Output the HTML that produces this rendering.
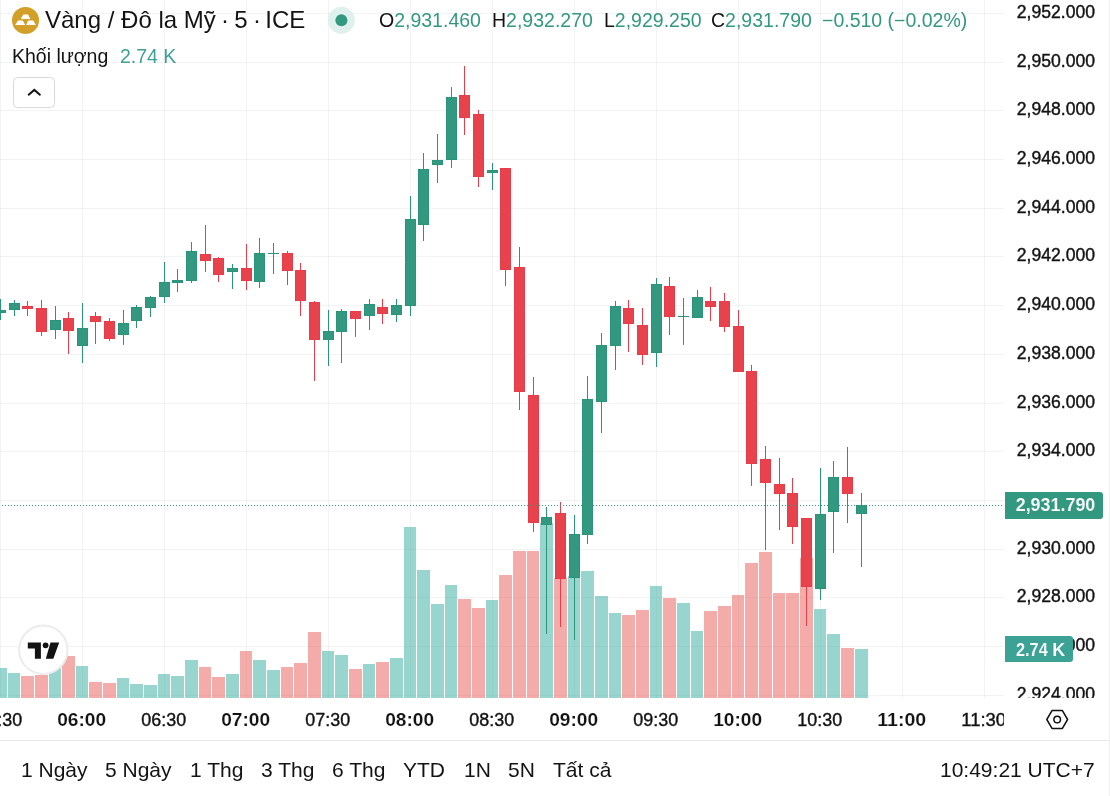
<!DOCTYPE html>
<html><head><meta charset="utf-8"><title>chart</title>
<style>
html,body{margin:0;padding:0;background:#fff;}
body{width:1110px;height:796px;position:relative;overflow:hidden;font-family:"Liberation Sans",sans-serif;color:#131313;}
.t{position:absolute;white-space:nowrap;line-height:1;will-change:transform;}
.title{left:45px;top:8px;font-size:24px;}
.ohlc{top:11px;font-size:19.5px;}
.teal{color:#329980;}
.vol{left:12px;top:46.7px;font-size:19.5px;}
.tb{top:759px;font-size:21px;}
</style></head><body>
<svg width="1110" height="796" viewBox="0 0 1110 796" style="position:absolute;left:0;top:0;will-change:transform" shape-rendering="crispEdges">
<defs><clipPath id="pane"><rect x="0" y="0" width="1004" height="698"/></clipPath><clipPath id="paxis"><rect x="1004" y="0" width="110" height="698"/></clipPath><clipPath id="taxis"><rect x="0" y="698" width="1004" height="44"/></clipPath></defs>
<g clip-path="url(#pane)">
<rect x="0" y="0" width="1" height="698" fill="rgba(42,46,57,0.06)"/>
<rect x="82" y="0" width="1" height="698" fill="rgba(42,46,57,0.06)"/>
<rect x="164" y="0" width="1" height="698" fill="rgba(42,46,57,0.06)"/>
<rect x="246" y="0" width="1" height="698" fill="rgba(42,46,57,0.06)"/>
<rect x="328" y="0" width="1" height="698" fill="rgba(42,46,57,0.06)"/>
<rect x="410" y="0" width="1" height="698" fill="rgba(42,46,57,0.06)"/>
<rect x="492" y="0" width="1" height="698" fill="rgba(42,46,57,0.06)"/>
<rect x="574" y="0" width="1" height="698" fill="rgba(42,46,57,0.06)"/>
<rect x="656" y="0" width="1" height="698" fill="rgba(42,46,57,0.06)"/>
<rect x="738" y="0" width="1" height="698" fill="rgba(42,46,57,0.06)"/>
<rect x="820" y="0" width="1" height="698" fill="rgba(42,46,57,0.06)"/>
<rect x="902" y="0" width="1" height="698" fill="rgba(42,46,57,0.06)"/>
<rect x="984" y="0" width="1" height="698" fill="rgba(42,46,57,0.06)"/>
<rect x="0" y="13" width="1004" height="1" fill="rgba(42,46,57,0.06)"/>
<rect x="0" y="62" width="1004" height="1" fill="rgba(42,46,57,0.06)"/>
<rect x="0" y="110" width="1004" height="1" fill="rgba(42,46,57,0.06)"/>
<rect x="0" y="159" width="1004" height="1" fill="rgba(42,46,57,0.06)"/>
<rect x="0" y="208" width="1004" height="1" fill="rgba(42,46,57,0.06)"/>
<rect x="0" y="256" width="1004" height="1" fill="rgba(42,46,57,0.06)"/>
<rect x="0" y="305" width="1004" height="1" fill="rgba(42,46,57,0.06)"/>
<rect x="0" y="354" width="1004" height="1" fill="rgba(42,46,57,0.06)"/>
<rect x="0" y="403" width="1004" height="1" fill="rgba(42,46,57,0.06)"/>
<rect x="0" y="451" width="1004" height="1" fill="rgba(42,46,57,0.06)"/>
<rect x="0" y="500" width="1004" height="1" fill="rgba(42,46,57,0.06)"/>
<rect x="0" y="549" width="1004" height="1" fill="rgba(42,46,57,0.06)"/>
<rect x="0" y="597" width="1004" height="1" fill="rgba(42,46,57,0.06)"/>
<rect x="0" y="646" width="1004" height="1" fill="rgba(42,46,57,0.06)"/>
<rect x="0" y="695" width="1004" height="1" fill="rgba(42,46,57,0.06)"/>
<rect x="-6" y="668" width="13" height="30" fill="rgba(38,166,154,0.47)"/>
<rect x="8" y="673" width="12" height="25" fill="rgba(38,166,154,0.47)"/>
<rect x="21" y="676" width="13" height="22" fill="rgba(234,90,88,0.5)"/>
<rect x="35" y="675" width="13" height="23" fill="rgba(234,90,88,0.5)"/>
<rect x="49" y="668" width="12" height="30" fill="rgba(38,166,154,0.47)"/>
<rect x="62" y="656" width="13" height="42" fill="rgba(234,90,88,0.5)"/>
<rect x="76" y="666" width="12" height="32" fill="rgba(38,166,154,0.47)"/>
<rect x="89" y="682" width="13" height="16" fill="rgba(234,90,88,0.5)"/>
<rect x="103" y="683" width="13" height="15" fill="rgba(234,90,88,0.5)"/>
<rect x="117" y="678" width="12" height="20" fill="rgba(38,166,154,0.47)"/>
<rect x="130" y="684" width="13" height="14" fill="rgba(38,166,154,0.47)"/>
<rect x="144" y="685" width="13" height="13" fill="rgba(38,166,154,0.47)"/>
<rect x="158" y="674" width="12" height="24" fill="rgba(38,166,154,0.47)"/>
<rect x="171" y="676" width="13" height="22" fill="rgba(38,166,154,0.47)"/>
<rect x="185" y="660" width="13" height="38" fill="rgba(38,166,154,0.47)"/>
<rect x="199" y="667" width="12" height="31" fill="rgba(234,90,88,0.5)"/>
<rect x="212" y="677" width="13" height="21" fill="rgba(234,90,88,0.5)"/>
<rect x="226" y="674" width="13" height="24" fill="rgba(38,166,154,0.47)"/>
<rect x="240" y="651" width="12" height="47" fill="rgba(234,90,88,0.5)"/>
<rect x="253" y="660" width="13" height="38" fill="rgba(38,166,154,0.47)"/>
<rect x="267" y="670" width="13" height="28" fill="rgba(38,166,154,0.47)"/>
<rect x="281" y="667" width="12" height="31" fill="rgba(234,90,88,0.5)"/>
<rect x="294" y="663" width="13" height="35" fill="rgba(234,90,88,0.5)"/>
<rect x="308" y="632" width="13" height="66" fill="rgba(234,90,88,0.5)"/>
<rect x="322" y="651" width="12" height="47" fill="rgba(38,166,154,0.47)"/>
<rect x="335" y="655" width="13" height="43" fill="rgba(38,166,154,0.47)"/>
<rect x="349" y="669" width="13" height="29" fill="rgba(234,90,88,0.5)"/>
<rect x="363" y="664" width="12" height="34" fill="rgba(38,166,154,0.47)"/>
<rect x="376" y="662" width="13" height="36" fill="rgba(234,90,88,0.5)"/>
<rect x="390" y="658" width="13" height="40" fill="rgba(38,166,154,0.47)"/>
<rect x="404" y="527" width="12" height="171" fill="rgba(38,166,154,0.47)"/>
<rect x="417" y="570" width="13" height="128" fill="rgba(38,166,154,0.47)"/>
<rect x="431" y="604" width="13" height="94" fill="rgba(38,166,154,0.47)"/>
<rect x="445" y="585" width="12" height="113" fill="rgba(38,166,154,0.47)"/>
<rect x="458" y="599" width="13" height="99" fill="rgba(234,90,88,0.5)"/>
<rect x="472" y="608" width="13" height="90" fill="rgba(234,90,88,0.5)"/>
<rect x="486" y="600" width="12" height="98" fill="rgba(38,166,154,0.47)"/>
<rect x="499" y="575" width="13" height="123" fill="rgba(234,90,88,0.5)"/>
<rect x="513" y="551" width="13" height="147" fill="rgba(234,90,88,0.5)"/>
<rect x="527" y="551" width="12" height="147" fill="rgba(234,90,88,0.5)"/>
<rect x="540" y="523" width="13" height="175" fill="rgba(38,166,154,0.47)"/>
<rect x="554" y="578" width="13" height="120" fill="rgba(234,90,88,0.5)"/>
<rect x="568" y="576" width="12" height="122" fill="rgba(38,166,154,0.47)"/>
<rect x="581" y="571" width="13" height="127" fill="rgba(38,166,154,0.47)"/>
<rect x="595" y="596" width="13" height="102" fill="rgba(38,166,154,0.47)"/>
<rect x="609" y="613" width="12" height="85" fill="rgba(38,166,154,0.47)"/>
<rect x="622" y="615" width="13" height="83" fill="rgba(234,90,88,0.5)"/>
<rect x="636" y="610" width="13" height="88" fill="rgba(234,90,88,0.5)"/>
<rect x="650" y="586" width="12" height="112" fill="rgba(38,166,154,0.47)"/>
<rect x="663" y="598" width="13" height="100" fill="rgba(234,90,88,0.5)"/>
<rect x="677" y="603" width="13" height="95" fill="rgba(38,166,154,0.47)"/>
<rect x="691" y="631" width="12" height="67" fill="rgba(38,166,154,0.47)"/>
<rect x="704" y="611" width="13" height="87" fill="rgba(234,90,88,0.5)"/>
<rect x="718" y="606" width="13" height="92" fill="rgba(234,90,88,0.5)"/>
<rect x="732" y="595" width="12" height="103" fill="rgba(234,90,88,0.5)"/>
<rect x="745" y="563" width="13" height="135" fill="rgba(234,90,88,0.5)"/>
<rect x="759" y="552" width="13" height="146" fill="rgba(234,90,88,0.5)"/>
<rect x="773" y="593" width="12" height="105" fill="rgba(234,90,88,0.5)"/>
<rect x="786" y="593" width="13" height="105" fill="rgba(234,90,88,0.5)"/>
<rect x="800" y="558" width="13" height="140" fill="rgba(234,90,88,0.5)"/>
<rect x="814" y="609" width="12" height="89" fill="rgba(38,166,154,0.47)"/>
<rect x="827" y="634" width="13" height="64" fill="rgba(38,166,154,0.47)"/>
<rect x="841" y="648" width="13" height="50" fill="rgba(234,90,88,0.5)"/>
<rect x="855" y="649" width="13" height="49" fill="rgba(38,166,154,0.47)"/>
<rect x="0" y="299" width="1" height="21" fill="#2a947b"/>
<rect x="-5" y="310" width="11" height="3" fill="#2a947b"/>
<rect x="-4" y="311" width="9" height="1" fill="#329980"/>
<rect x="14" y="300" width="1" height="16" fill="#2a947b"/>
<rect x="9" y="303" width="11" height="7" fill="#2a947b"/>
<rect x="10" y="304" width="9" height="5" fill="#329980"/>
<rect x="27" y="301" width="1" height="15" fill="#e73d4b"/>
<rect x="22" y="306" width="11" height="3" fill="#e73d4b"/>
<rect x="23" y="307" width="9" height="1" fill="#e8424c"/>
<rect x="41" y="300" width="1" height="36" fill="#e73d4b"/>
<rect x="36" y="308" width="11" height="24" fill="#e73d4b"/>
<rect x="37" y="309" width="9" height="22" fill="#e8424c"/>
<rect x="55" y="306" width="1" height="33" fill="#2a947b"/>
<rect x="50" y="320" width="11" height="10" fill="#2a947b"/>
<rect x="51" y="321" width="9" height="8" fill="#329980"/>
<rect x="68" y="312" width="1" height="42" fill="#e73d4b"/>
<rect x="63" y="318" width="11" height="13" fill="#e73d4b"/>
<rect x="64" y="319" width="9" height="11" fill="#e8424c"/>
<rect x="82" y="303" width="1" height="60" fill="#2a947b"/>
<rect x="77" y="328" width="11" height="18" fill="#2a947b"/>
<rect x="78" y="329" width="9" height="16" fill="#329980"/>
<rect x="95" y="312" width="1" height="32" fill="#e73d4b"/>
<rect x="90" y="316" width="11" height="6" fill="#e73d4b"/>
<rect x="91" y="317" width="9" height="4" fill="#e8424c"/>
<rect x="109" y="318" width="1" height="23" fill="#e73d4b"/>
<rect x="104" y="321" width="11" height="18" fill="#e73d4b"/>
<rect x="105" y="322" width="9" height="16" fill="#e8424c"/>
<rect x="123" y="310" width="1" height="35" fill="#2a947b"/>
<rect x="118" y="323" width="11" height="12" fill="#2a947b"/>
<rect x="119" y="324" width="9" height="10" fill="#329980"/>
<rect x="136" y="305" width="1" height="23" fill="#2a947b"/>
<rect x="131" y="307" width="11" height="14" fill="#2a947b"/>
<rect x="132" y="308" width="9" height="12" fill="#329980"/>
<rect x="150" y="296" width="1" height="21" fill="#2a947b"/>
<rect x="145" y="297" width="11" height="11" fill="#2a947b"/>
<rect x="146" y="298" width="9" height="9" fill="#329980"/>
<rect x="164" y="262" width="1" height="41" fill="#2a947b"/>
<rect x="159" y="282" width="11" height="15" fill="#2a947b"/>
<rect x="160" y="283" width="9" height="13" fill="#329980"/>
<rect x="177" y="269" width="1" height="23" fill="#2a947b"/>
<rect x="172" y="280" width="11" height="3" fill="#2a947b"/>
<rect x="173" y="281" width="9" height="1" fill="#329980"/>
<rect x="191" y="242" width="1" height="41" fill="#2a947b"/>
<rect x="186" y="251" width="11" height="30" fill="#2a947b"/>
<rect x="187" y="252" width="9" height="28" fill="#329980"/>
<rect x="205" y="225" width="1" height="47" fill="#e73d4b"/>
<rect x="200" y="254" width="11" height="7" fill="#e73d4b"/>
<rect x="201" y="255" width="9" height="5" fill="#e8424c"/>
<rect x="218" y="257" width="1" height="25" fill="#e73d4b"/>
<rect x="213" y="258" width="11" height="17" fill="#e73d4b"/>
<rect x="214" y="259" width="9" height="15" fill="#e8424c"/>
<rect x="232" y="264" width="1" height="25" fill="#2a947b"/>
<rect x="227" y="268" width="11" height="4" fill="#2a947b"/>
<rect x="228" y="269" width="9" height="2" fill="#329980"/>
<rect x="246" y="244" width="1" height="46" fill="#e73d4b"/>
<rect x="241" y="268" width="11" height="13" fill="#e73d4b"/>
<rect x="242" y="269" width="9" height="11" fill="#e8424c"/>
<rect x="259" y="238" width="1" height="50" fill="#2a947b"/>
<rect x="254" y="253" width="11" height="29" fill="#2a947b"/>
<rect x="255" y="254" width="9" height="27" fill="#329980"/>
<rect x="273" y="243" width="1" height="31" fill="#2a947b"/>
<rect x="268" y="253" width="11" height="1" fill="#2a947b"/>
<rect x="287" y="251" width="1" height="34" fill="#e73d4b"/>
<rect x="282" y="253" width="11" height="18" fill="#e73d4b"/>
<rect x="283" y="254" width="9" height="16" fill="#e8424c"/>
<rect x="300" y="263" width="1" height="53" fill="#e73d4b"/>
<rect x="295" y="270" width="11" height="31" fill="#e73d4b"/>
<rect x="296" y="271" width="9" height="29" fill="#e8424c"/>
<rect x="314" y="301" width="1" height="80" fill="#e73d4b"/>
<rect x="309" y="302" width="11" height="38" fill="#e73d4b"/>
<rect x="310" y="303" width="9" height="36" fill="#e8424c"/>
<rect x="328" y="310" width="1" height="56" fill="#2a947b"/>
<rect x="323" y="331" width="11" height="9" fill="#2a947b"/>
<rect x="324" y="332" width="9" height="7" fill="#329980"/>
<rect x="341" y="309" width="1" height="54" fill="#2a947b"/>
<rect x="336" y="311" width="11" height="21" fill="#2a947b"/>
<rect x="337" y="312" width="9" height="19" fill="#329980"/>
<rect x="355" y="311" width="1" height="26" fill="#e73d4b"/>
<rect x="350" y="311" width="11" height="8" fill="#e73d4b"/>
<rect x="351" y="312" width="9" height="6" fill="#e8424c"/>
<rect x="369" y="299" width="1" height="31" fill="#2a947b"/>
<rect x="364" y="304" width="11" height="12" fill="#2a947b"/>
<rect x="365" y="305" width="9" height="10" fill="#329980"/>
<rect x="382" y="299" width="1" height="25" fill="#e73d4b"/>
<rect x="377" y="307" width="11" height="7" fill="#e73d4b"/>
<rect x="378" y="308" width="9" height="5" fill="#e8424c"/>
<rect x="396" y="299" width="1" height="23" fill="#2a947b"/>
<rect x="391" y="305" width="11" height="10" fill="#2a947b"/>
<rect x="392" y="306" width="9" height="8" fill="#329980"/>
<rect x="410" y="196" width="1" height="120" fill="#2a947b"/>
<rect x="405" y="219" width="11" height="87" fill="#2a947b"/>
<rect x="406" y="220" width="9" height="85" fill="#329980"/>
<rect x="423" y="153" width="1" height="88" fill="#2a947b"/>
<rect x="418" y="169" width="11" height="56" fill="#2a947b"/>
<rect x="419" y="170" width="9" height="54" fill="#329980"/>
<rect x="437" y="134" width="1" height="49" fill="#2a947b"/>
<rect x="432" y="160" width="11" height="5" fill="#2a947b"/>
<rect x="433" y="161" width="9" height="3" fill="#329980"/>
<rect x="451" y="87" width="1" height="81" fill="#2a947b"/>
<rect x="446" y="97" width="11" height="63" fill="#2a947b"/>
<rect x="447" y="98" width="9" height="61" fill="#329980"/>
<rect x="464" y="66" width="1" height="69" fill="#e73d4b"/>
<rect x="459" y="95" width="11" height="23" fill="#e73d4b"/>
<rect x="460" y="96" width="9" height="21" fill="#e8424c"/>
<rect x="478" y="110" width="1" height="77" fill="#e73d4b"/>
<rect x="473" y="114" width="11" height="63" fill="#e73d4b"/>
<rect x="474" y="115" width="9" height="61" fill="#e8424c"/>
<rect x="492" y="163" width="1" height="27" fill="#2a947b"/>
<rect x="487" y="170" width="11" height="3" fill="#2a947b"/>
<rect x="488" y="171" width="9" height="1" fill="#329980"/>
<rect x="505" y="168" width="1" height="118" fill="#e73d4b"/>
<rect x="500" y="168" width="11" height="102" fill="#e73d4b"/>
<rect x="501" y="169" width="9" height="100" fill="#e8424c"/>
<rect x="519" y="247" width="1" height="163" fill="#e73d4b"/>
<rect x="514" y="267" width="11" height="125" fill="#e73d4b"/>
<rect x="515" y="268" width="9" height="123" fill="#e8424c"/>
<rect x="533" y="377" width="1" height="155" fill="#e73d4b"/>
<rect x="528" y="395" width="11" height="128" fill="#e73d4b"/>
<rect x="529" y="396" width="9" height="126" fill="#e8424c"/>
<rect x="546" y="507" width="1" height="127" fill="#2a947b"/>
<rect x="541" y="517" width="11" height="8" fill="#2a947b"/>
<rect x="542" y="518" width="9" height="6" fill="#329980"/>
<rect x="560" y="502" width="1" height="125" fill="#e73d4b"/>
<rect x="555" y="513" width="11" height="66" fill="#e73d4b"/>
<rect x="556" y="514" width="9" height="64" fill="#e8424c"/>
<rect x="574" y="515" width="1" height="125" fill="#2a947b"/>
<rect x="569" y="534" width="11" height="44" fill="#2a947b"/>
<rect x="570" y="535" width="9" height="42" fill="#329980"/>
<rect x="587" y="376" width="1" height="168" fill="#2a947b"/>
<rect x="582" y="399" width="11" height="136" fill="#2a947b"/>
<rect x="583" y="400" width="9" height="134" fill="#329980"/>
<rect x="601" y="333" width="1" height="100" fill="#2a947b"/>
<rect x="596" y="345" width="11" height="57" fill="#2a947b"/>
<rect x="597" y="346" width="9" height="55" fill="#329980"/>
<rect x="615" y="301" width="1" height="69" fill="#2a947b"/>
<rect x="610" y="306" width="11" height="40" fill="#2a947b"/>
<rect x="611" y="307" width="9" height="38" fill="#329980"/>
<rect x="628" y="300" width="1" height="52" fill="#e73d4b"/>
<rect x="623" y="308" width="11" height="16" fill="#e73d4b"/>
<rect x="624" y="309" width="9" height="14" fill="#e8424c"/>
<rect x="642" y="308" width="1" height="57" fill="#e73d4b"/>
<rect x="637" y="325" width="11" height="30" fill="#e73d4b"/>
<rect x="638" y="326" width="9" height="28" fill="#e8424c"/>
<rect x="656" y="278" width="1" height="89" fill="#2a947b"/>
<rect x="651" y="284" width="11" height="69" fill="#2a947b"/>
<rect x="652" y="285" width="9" height="67" fill="#329980"/>
<rect x="669" y="277" width="1" height="58" fill="#e73d4b"/>
<rect x="664" y="286" width="11" height="31" fill="#e73d4b"/>
<rect x="665" y="287" width="9" height="29" fill="#e8424c"/>
<rect x="683" y="298" width="1" height="47" fill="#2a947b"/>
<rect x="678" y="316" width="11" height="1" fill="#2a947b"/>
<rect x="697" y="290" width="1" height="28" fill="#2a947b"/>
<rect x="692" y="297" width="11" height="21" fill="#2a947b"/>
<rect x="693" y="298" width="9" height="19" fill="#329980"/>
<rect x="710" y="287" width="1" height="34" fill="#e73d4b"/>
<rect x="705" y="301" width="11" height="6" fill="#e73d4b"/>
<rect x="706" y="302" width="9" height="4" fill="#e8424c"/>
<rect x="724" y="293" width="1" height="39" fill="#e73d4b"/>
<rect x="719" y="301" width="11" height="26" fill="#e73d4b"/>
<rect x="720" y="302" width="9" height="24" fill="#e8424c"/>
<rect x="738" y="310" width="1" height="62" fill="#e73d4b"/>
<rect x="733" y="326" width="11" height="46" fill="#e73d4b"/>
<rect x="734" y="327" width="9" height="44" fill="#e8424c"/>
<rect x="751" y="365" width="1" height="121" fill="#e73d4b"/>
<rect x="746" y="371" width="11" height="93" fill="#e73d4b"/>
<rect x="747" y="372" width="9" height="91" fill="#e8424c"/>
<rect x="765" y="446" width="1" height="104" fill="#e73d4b"/>
<rect x="760" y="459" width="11" height="24" fill="#e73d4b"/>
<rect x="761" y="460" width="9" height="22" fill="#e8424c"/>
<rect x="779" y="458" width="1" height="72" fill="#e73d4b"/>
<rect x="774" y="484" width="11" height="10" fill="#e73d4b"/>
<rect x="775" y="485" width="9" height="8" fill="#e8424c"/>
<rect x="792" y="478" width="1" height="66" fill="#e73d4b"/>
<rect x="787" y="493" width="11" height="34" fill="#e73d4b"/>
<rect x="788" y="494" width="9" height="32" fill="#e8424c"/>
<rect x="806" y="518" width="1" height="108" fill="#e73d4b"/>
<rect x="801" y="518" width="11" height="69" fill="#e73d4b"/>
<rect x="802" y="519" width="9" height="67" fill="#e8424c"/>
<rect x="820" y="468" width="1" height="132" fill="#2a947b"/>
<rect x="815" y="514" width="11" height="75" fill="#2a947b"/>
<rect x="816" y="515" width="9" height="73" fill="#329980"/>
<rect x="833" y="461" width="1" height="92" fill="#2a947b"/>
<rect x="828" y="477" width="11" height="35" fill="#2a947b"/>
<rect x="829" y="478" width="9" height="33" fill="#329980"/>
<rect x="847" y="447" width="1" height="76" fill="#e73d4b"/>
<rect x="842" y="477" width="11" height="17" fill="#e73d4b"/>
<rect x="843" y="478" width="9" height="15" fill="#e8424c"/>
<rect x="861" y="493" width="1" height="74" fill="#2a947b"/>
<rect x="856" y="505" width="11" height="9" fill="#2a947b"/>
<rect x="857" y="506" width="9" height="7" fill="#329980"/>
<line x1="2" y1="505.5" x2="1004" y2="505.5" stroke="#329980" stroke-width="1" stroke-dasharray="1 2"/>
</g>
<g clip-path="url(#paxis)" shape-rendering="auto" font-family="Liberation Sans, sans-serif" font-size="17.6px" fill="#131313" stroke="#131313" stroke-width="0.4">
<text x="1095" y="17.8" text-anchor="end">2,952.000</text>
<text x="1095" y="66.8" text-anchor="end">2,950.000</text>
<text x="1095" y="114.8" text-anchor="end">2,948.000</text>
<text x="1095" y="163.8" text-anchor="end">2,946.000</text>
<text x="1095" y="212.8" text-anchor="end">2,944.000</text>
<text x="1095" y="260.8" text-anchor="end">2,942.000</text>
<text x="1095" y="309.8" text-anchor="end">2,940.000</text>
<text x="1095" y="358.8" text-anchor="end">2,938.000</text>
<text x="1095" y="407.8" text-anchor="end">2,936.000</text>
<text x="1095" y="455.8" text-anchor="end">2,934.000</text>
<text x="1095" y="553.8" text-anchor="end">2,930.000</text>
<text x="1095" y="601.8" text-anchor="end">2,928.000</text>
<text x="1095" y="650.8" text-anchor="end">2,926.000</text>
<text x="1095" y="699.8" text-anchor="end">2,924.000</text>
</g>
<g shape-rendering="auto" font-family="Liberation Sans, sans-serif">
<path d="M1005 636h65a3 3 0 0 1 3 3v20a3 3 0 0 1 -3 3h-65z" fill="#3ca295"/>
<text x="1016" y="655.7" font-size="17.9px" font-weight="bold" fill="#fff" stroke="#3ca295" stroke-width="0.12" textLength="31.8" lengthAdjust="spacingAndGlyphs">2.74</text><text x="1065.1" y="655.7" font-size="17.9px" font-weight="bold" fill="#fff" stroke="#3ca295" stroke-width="0.12" text-anchor="end">K</text>
<path d="M1005 492h95a3 3 0 0 1 3 3v21a3 3 0 0 1 -3 3h-95z" fill="#329980"/>
<text x="1095.3" y="511" font-size="17.9px" font-weight="bold" fill="#fff" stroke="#329980" stroke-width="0.12" text-anchor="end" textLength="79.6" lengthAdjust="spacingAndGlyphs">2,931.790</text>
</g>
<g clip-path="url(#taxis)" shape-rendering="auto" font-family="Liberation Sans, sans-serif" font-size="17.6px" fill="#131313">
<text x="-0.3" y="726" text-anchor="middle" stroke="#131313" stroke-width="0.4" textLength="44.8" lengthAdjust="spacingAndGlyphs">05:30</text>
<text x="81.7" y="726.2" text-anchor="middle" font-weight="bold" font-size="17.9px" stroke="#fff" stroke-width="0.12" textLength="49" lengthAdjust="spacingAndGlyphs">06:00</text>
<text x="163.7" y="726" text-anchor="middle" stroke="#131313" stroke-width="0.4" textLength="44.8" lengthAdjust="spacingAndGlyphs">06:30</text>
<text x="245.7" y="726.2" text-anchor="middle" font-weight="bold" font-size="17.9px" stroke="#fff" stroke-width="0.12" textLength="49" lengthAdjust="spacingAndGlyphs">07:00</text>
<text x="327.7" y="726" text-anchor="middle" stroke="#131313" stroke-width="0.4" textLength="44.8" lengthAdjust="spacingAndGlyphs">07:30</text>
<text x="409.7" y="726.2" text-anchor="middle" font-weight="bold" font-size="17.9px" stroke="#fff" stroke-width="0.12" textLength="49" lengthAdjust="spacingAndGlyphs">08:00</text>
<text x="491.7" y="726" text-anchor="middle" stroke="#131313" stroke-width="0.4" textLength="44.8" lengthAdjust="spacingAndGlyphs">08:30</text>
<text x="573.7" y="726.2" text-anchor="middle" font-weight="bold" font-size="17.9px" stroke="#fff" stroke-width="0.12" textLength="49" lengthAdjust="spacingAndGlyphs">09:00</text>
<text x="655.7" y="726" text-anchor="middle" stroke="#131313" stroke-width="0.4" textLength="44.8" lengthAdjust="spacingAndGlyphs">09:30</text>
<text x="737.7" y="726.2" text-anchor="middle" font-weight="bold" font-size="17.9px" stroke="#fff" stroke-width="0.12" textLength="49" lengthAdjust="spacingAndGlyphs">10:00</text>
<text x="819.7" y="726" text-anchor="middle" stroke="#131313" stroke-width="0.4" textLength="44.8" lengthAdjust="spacingAndGlyphs">10:30</text>
<text x="901.7" y="726.2" text-anchor="middle" font-weight="bold" font-size="17.9px" stroke="#fff" stroke-width="0.12" textLength="49" lengthAdjust="spacingAndGlyphs">11:00</text>
<text x="983.7" y="726" text-anchor="middle" stroke="#131313" stroke-width="0.4" textLength="44.8" lengthAdjust="spacingAndGlyphs">11:30</text>
</g>
<g shape-rendering="auto" fill="none" stroke="#131313" stroke-width="1.5">
<path d="M1046.8 719.5 L1052 710.6 H1062.4 L1067.6 719.5 L1062.4 728.4 H1052 Z" stroke-linejoin="round"/>
<circle cx="1057.2" cy="719.5" r="3.3"/>
</g>
<rect x="0" y="740" width="1110" height="1" fill="#e6e6e6"/>
<rect x="1109" y="0" width="1" height="796" fill="#efefef"/>
<g shape-rendering="auto">
<circle cx="43.3" cy="649.8" r="24.2" fill="#fff" stroke="#ececec" stroke-width="2"/>
<path d="M27.8 642.4H40.9V658.8H34.9V648.5H27.8Z M50.5 642.4H59.2L53.3 658.8H45.8Z" fill="#131313"/>
<circle cx="45.6" cy="645.3" r="2.9" fill="#131313"/>
</g>
<g shape-rendering="auto">
<circle cx="25.5" cy="20.4" r="13.5" fill="#d2a028"/>
<path d="M23.4 14.6H28L30.4 18.9H20.7Z M18 20.4H22.8L25.1 25H15.2Z M28.2 20.4H33.1L35.9 25H26.1Z" fill="#fff"/>
</g>
<g shape-rendering="auto"><circle cx="341.4" cy="20.2" r="13.5" fill="#e0f0ec"/><circle cx="341.4" cy="20.2" r="6" fill="#329980"/></g>
<g shape-rendering="auto"><rect x="13.5" y="77.5" width="41" height="30" rx="4" fill="#fff" stroke="#d9d9d9" stroke-width="1"/>
<path d="M28.7 94.7L34.3 89.9L39.9 94.7" fill="none" stroke="#131313" stroke-width="2" stroke-linecap="round"/></g>
</svg>
<div class="t title">Vàng / Đô la Mỹ<span style="word-spacing:-1.4px"> · 5 ·</span><span style="margin-left:4.4px">ICE</span></div>
<div class="t ohlc" style="left:379px">O<span class="teal">2,931.460</span></div>
<div class="t ohlc" style="left:492px">H<span class="teal">2,932.270</span></div>
<div class="t ohlc" style="left:604px">L<span class="teal">2,929.250</span></div>
<div class="t ohlc" style="left:711px">C<span class="teal">2,931.790</span></div>
<div class="t ohlc teal" style="left:822px">−0.510 (−0.02%)</div>
<div class="t vol">Khối lượng</div>
<div class="t vol teal" style="left:120px;color:#3ca295">2.74 K</div>
<div class="t tb" style="left:21px">1 Ngày</div>
<div class="t tb" style="left:105px">5 Ngày</div>
<div class="t tb" style="left:190px">1 Thg</div>
<div class="t tb" style="left:261px">3 Thg</div>
<div class="t tb" style="left:332px">6 Thg</div>
<div class="t tb" style="left:403px">YTD</div>
<div class="t tb" style="left:464px">1N</div>
<div class="t tb" style="left:508px">5N</div>
<div class="t tb" style="left:553px">Tất cả</div>
<div class="t tb" style="left:940px">10:49:21 UTC+7</div>
</body></html>
